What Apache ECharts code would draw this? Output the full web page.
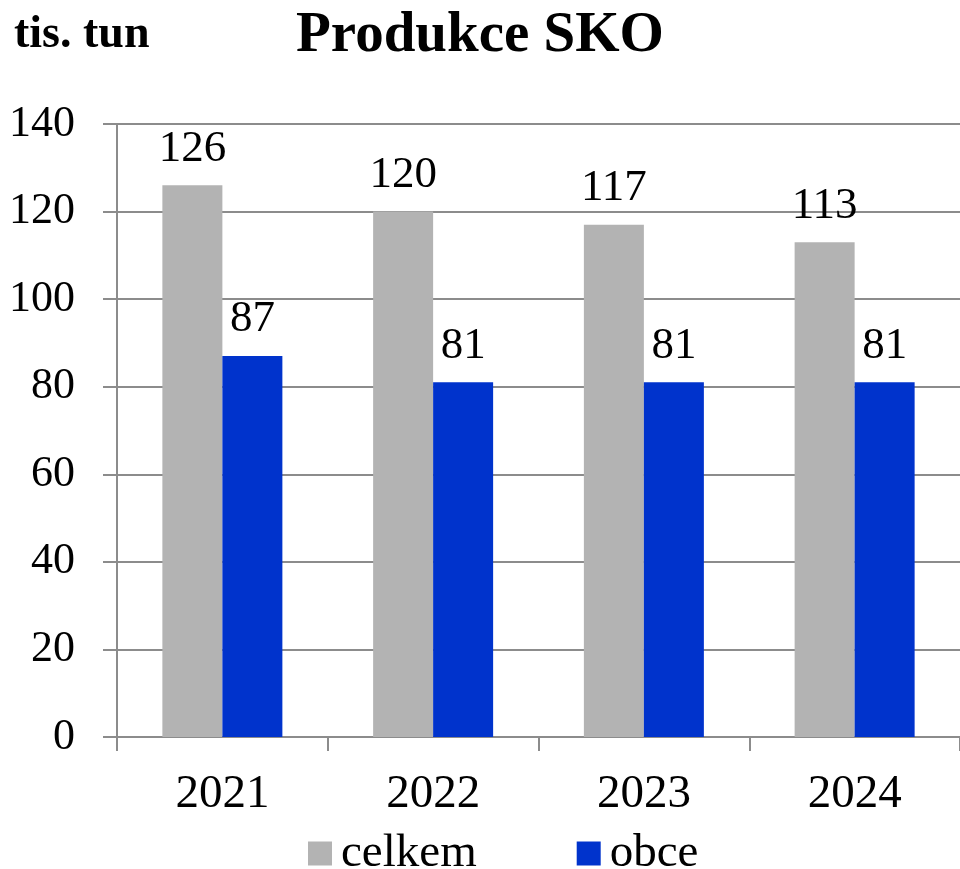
<!DOCTYPE html>
<html>
<head>
<meta charset="utf-8">
<script src="https://cdn.jsdelivr.net/npm/echarts@6/dist/echarts.min.js"></script>
<style>
  html, body { margin: 0; padding: 0; background: #fff; }
  #chart { width: 960px; height: 869px; }
</style>
</head>
<body>
<div id="chart"></div>
<script>
const years = ['2021', '2022', '2023', '2024']
const celkem = [126, 120, 117, 113]
const obce = [87, 81, 81, 81]
const yTicks = { min: 0, max: 140, interval: 20 }

const serif = "'Liberation Serif', 'Times New Roman', serif"
const gridColor = '#8c8c8c'

const chart = echarts.init(document.getElementById('chart'))

const barLabel = {
  show: true,
  position: 'top',
  distance: 14,
  color: '#000',
  fontFamily: serif,
  fontSize: 45
}

const option = {
  animation: false,
  title: [
    {
      text: 'Produkce SKO',
      left: 'center',
      top: 3,
      textStyle: { fontFamily: serif, fontSize: 57, fontWeight: 'bold', color: '#000' }
    },
    {
      text: 'tis. tun',
      left: 9,
      top: 7,
      textStyle: { fontFamily: serif, fontSize: 46, fontWeight: 'bold', color: '#000' }
    }
  ],
  legend: {
    left: 303,
    top: 825,
    itemWidth: 24,
    itemHeight: 24,
    itemGap: 100,
    icon: 'rect',
    textStyle: { fontFamily: serif, fontSize: 47, color: '#000', padding: [0, 0, 0, 4] }
  },
  grid: {
    left: 117,
    right: 0,
    top: 124,
    bottom: 132,
    containLabel: false
  },
  xAxis: {
    type: 'category',
    data: years,
    axisLine: { lineStyle: { color: gridColor, width: 2 } },
    axisTick: { show: true, length: 14, lineStyle: { color: gridColor, width: 2 } },
    axisLabel: { fontFamily: serif, fontSize: 47, color: '#000', margin: 34 }
  },
  yAxis: {
    type: 'value',
    min: yTicks.min,
    max: yTicks.max,
    interval: yTicks.interval,
    axisLine: { show: true, lineStyle: { color: gridColor, width: 2 } },
    axisTick: { show: true, length: 14, lineStyle: { color: gridColor, width: 2 } },
    splitLine: { lineStyle: { color: gridColor, width: 2 } },
    axisLabel: { fontFamily: serif, fontSize: 44, color: '#000', margin: 42 }
  },
  series: [
    {
      name: 'celkem',
      type: 'bar',
      data: celkem,
      barWidth: 60,
      barGap: '0%',
      itemStyle: { color: '#b3b3b3' },
      label: barLabel
    },
    {
      name: 'obce',
      type: 'bar',
      data: obce,
      barWidth: 60,
      itemStyle: { color: '#0033cc' },
      label: barLabel
    }
  ]
}

chart.setOption(option)
</script>
</body>
</html>
